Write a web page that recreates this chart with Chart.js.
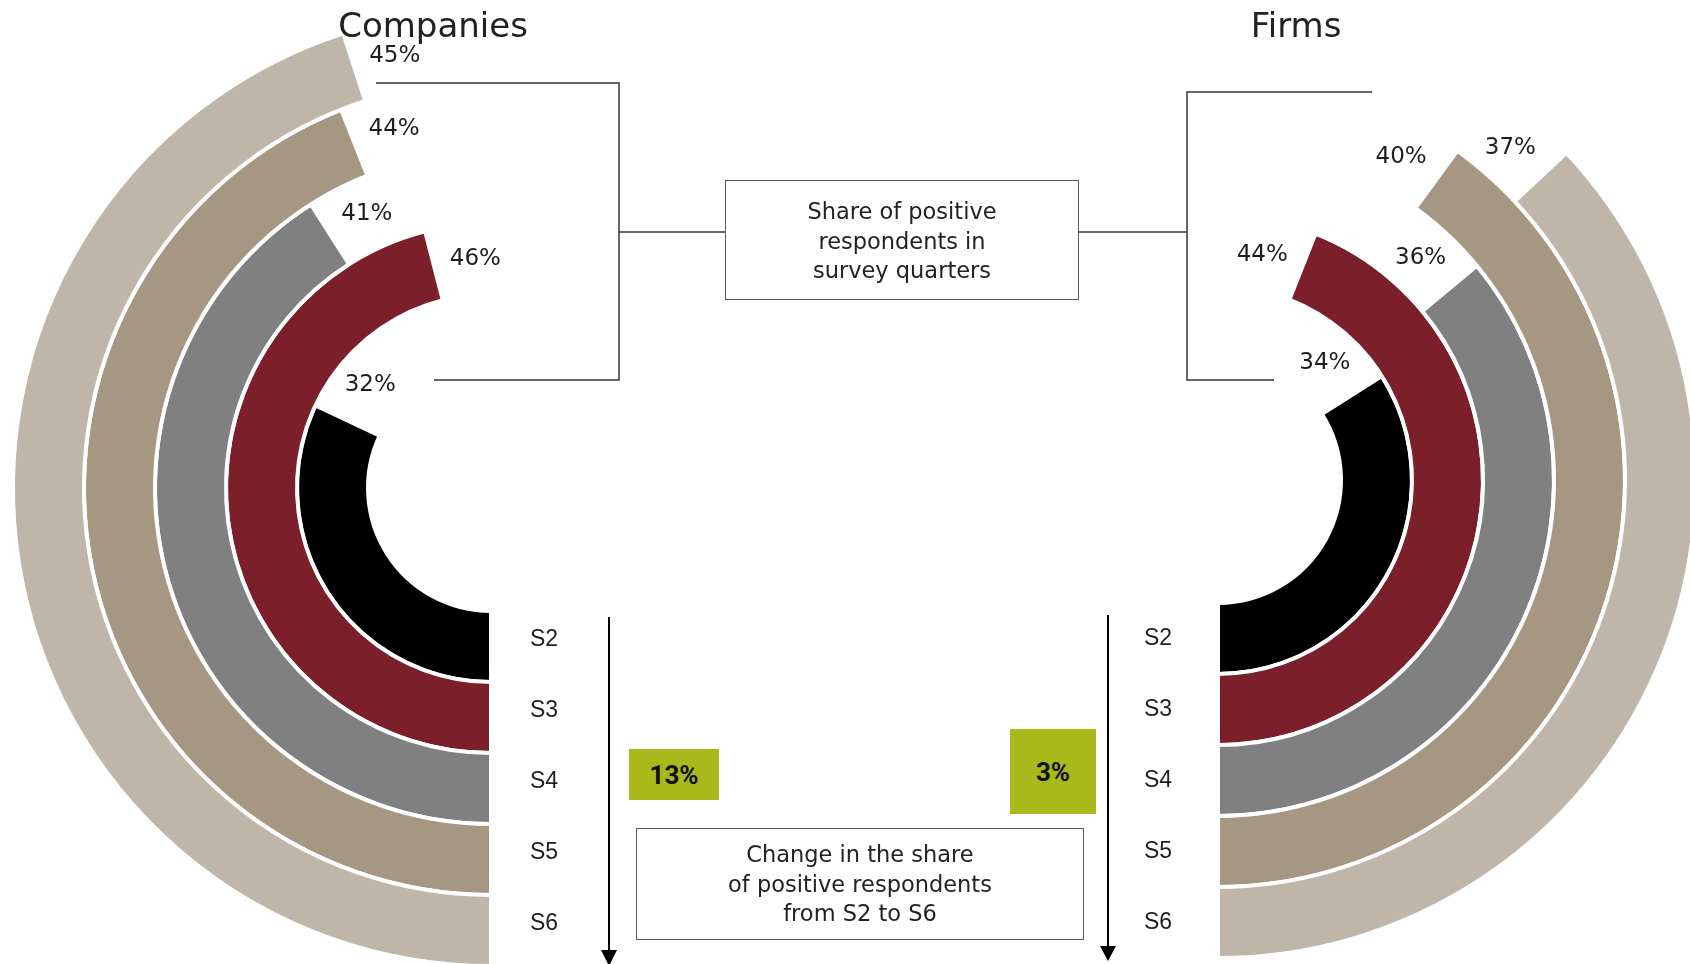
<!DOCTYPE html>
<html>
<head>
<meta charset="utf-8">
<script src="https://cdn.jsdelivr.net/npm/chart.js@4.4.1/dist/chart.umd.min.js"></script>
<style>
  html, body { margin: 0; padding: 0; background: #fff; }
  body { position: relative; width: 1690px; height: 964px; overflow: hidden;
         font-family: "DejaVu Sans", sans-serif; color: #222; }
  canvas.ring { position: absolute; }
  #overlay { position: absolute; left: 0; top: 0; }
  .title { position: absolute; top: 8px; font-size: 34px; line-height: 34px;
           white-space: nowrap; transform: translateX(-50%); }
  .box { position: absolute; box-sizing: border-box; border: 1.5px solid #5a5a5a; background: #fff; }
  .boxtext { position: absolute; left: 0; right: 0; text-align: center;
             font-size: 22.5px; line-height: 29.5px; }
  .delta { position: absolute; background: #a9b81a; color: #111;
           font: bold 26px Roboto, sans-serif; display: flex;
           align-items: center; justify-content: center; }
</style>
</head>
<body>

<canvas id="companies" class="ring" width="980" height="980" style="left:1px;top:-2px"></canvas>
<canvas id="firms" class="ring" width="980" height="980" style="left:728px;top:-10px"></canvas>

<svg id="overlay" width="1690" height="964">
  <g stroke="#333" stroke-width="1.5" fill="none">
    <polyline points="376,83 619,83 619,380 434,380"/>
    <line x1="619" y1="232" x2="725" y2="232"/>
    <polyline points="1372,92 1187,92 1187,380 1274,380"/>
    <line x1="1079" y1="232" x2="1187" y2="232"/>
  </g>
  <g stroke="#000" stroke-width="2">
    <line x1="609" y1="617" x2="609" y2="952"/>
    <line x1="1108" y1="615" x2="1108" y2="948"/>
  </g>
  <polygon points="601,950 617,950 609,966" fill="#000"/>
  <polygon points="1100,946 1116,946 1108,961" fill="#000"/>
</svg>

<div class="title" style="left:433px">Companies</div>
<div class="title" style="left:1296px">Firms</div>

<div class="box" style="left:725px;top:180px;width:354px;height:120px">
  <div class="boxtext" style="top:16px">Share of positive<br>respondents in<br>survey quarters</div>
</div>

<div class="box" style="left:636px;top:828px;width:448px;height:112px">
  <div class="boxtext" style="top:11px">Change in the share<br>of positive respondents<br>from S2 to S6</div>
</div>

<div id="deltaCompanies" class="delta" style="left:629px;top:749px;width:90px;height:51px"></div>
<div id="deltaFirms" class="delta" style="left:1010px;top:729px;width:86px;height:85px"></div>

<script>
// Survey quarters, innermost ring first
const quarters = ['S2', 'S3', 'S4', 'S5', 'S6'];
// Share of positive respondents per quarter (%)
const companies = [32, 46, 41, 44, 45];
const firms = [34, 44, 36, 40, 37];

// Ring fills, matched to quarters
const ringColors = ['#000000', '#7b1f2b', '#808080', '#a69783', '#bfb6a9'];
const clear = 'rgba(0,0,0,0)';

// Build one doughnut ring per quarter; dataset 0 is the outermost ring,
// so the quarters are added from last to first.
function buildRings(values, clockwise) {
  const sets = [];
  for (let i = quarters.length - 1; i >= 0; i--) {
    const v = values[i];
    const rest = 100 - v;
    sets.push({
      label: quarters[i],
      valueIndex: clockwise ? 0 : 1,
      data: clockwise ? [v, rest] : [rest, v],
      backgroundColor: clockwise ? [ringColors[i], clear] : [clear, ringColors[i]],
      borderColor: '#ffffff',
      borderWidth: clockwise ? [4, 0] : [0, 4]
    });
  }
  return sets;
}

// Percent at the tip of each ring, quarter name at its foot
const ringText = {
  id: 'ringText',
  afterDatasetsDraw(chart, args, opts) {
    const ctx = chart.ctx;
    chart.data.datasets.forEach((ds, i) => {
      const arc = chart.getDatasetMeta(i).data[ds.valueIndex];
      const rMid = (arc.innerRadius + arc.outerRadius) / 2;
      const a = opts.clockwise ? arc.endAngle + opts.gap / rMid
                               : arc.startAngle - opts.gap / rMid;
      ctx.save();
      ctx.fillStyle = '#1e1e1e';
      ctx.textAlign = 'center';
      ctx.textBaseline = 'middle';
      ctx.font = '23px "DejaVu Sans"';
      ctx.fillText(ds.data[ds.valueIndex] + '%', arc.x + rMid * Math.cos(a), arc.y + rMid * Math.sin(a));
      ctx.font = '23px "Liberation Sans"';
      ctx.fillText(ds.label, arc.x + opts.tagDx, arc.y + rMid + opts.tagDy);
      ctx.restore();
    });
  }
};

function ringChart(id, values, clockwise, tagDx, tagDy) {
  return new Chart(document.getElementById(id), {
    type: 'doughnut',
    data: { labels: ['positive', 'other'], datasets: buildRings(values, clockwise) },
    options: {
      responsive: false,
      animation: false,
      events: [],
      rotation: 180,
      circumference: 360,
      radius: 478,
      cutout: '25.73%',
      layout: { padding: 0 },
      plugins: {
        legend: { display: false },
        tooltip: { enabled: false },
        ringText: { clockwise: clockwise, gap: 42, tagDx: tagDx, tagDy: tagDy }
      }
    },
    plugins: [ringText]
  });
}

ringChart('companies', companies, true, 53, -7);
ringChart('firms', firms, false, -60, 0);

// Change from the first to the last quarter
document.getElementById('deltaCompanies').textContent =
  (companies[companies.length - 1] - companies[0]) + '%';
document.getElementById('deltaFirms').textContent =
  (firms[firms.length - 1] - firms[0]) + '%';
</script>
</body>
</html>
